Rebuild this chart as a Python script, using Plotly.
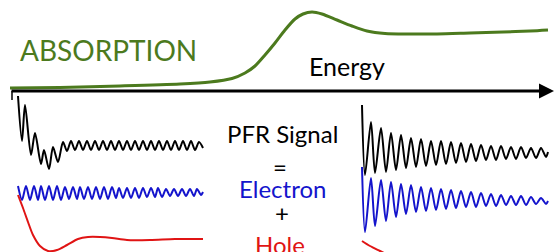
import plotly.graph_objects as go

# ---- data (schematic units: horizontal = energy/time, vertical = signal, downwards positive) ----
absorption_energy = [10, 60, 120, 180, 210, 232, 245, 255, 265, 275, 285, 295, 303, 312, 322, 337, 352, 367, 385, 410, 437, 470, 503, 530, 548]
absorption_value = [88, 87.5, 86, 84, 82, 78.5, 73, 66, 55, 43, 30, 19, 14, 12, 14, 20, 26, 31, 33.5, 34, 34, 33, 32, 31, 30]

left_total_t = [18, 22, 25, 31, 35, 41, 44, 49, 53, 58, 63, 67, 71, 75, 79, 83, 87, 91, 95, 99, 103, 107, 111, 115,
                119, 123, 127, 131, 135, 139, 143, 147, 151, 155, 159, 163, 167, 171, 175, 179, 183, 187, 191, 195, 199, 203]
left_total_y = [96, 141, 105, 155, 133, 164, 150, 169, 147, 162, 142, 151, 141, 150, 141, 150, 141, 150, 141, 150, 141, 150, 141, 150,
                141, 150, 141, 150, 141, 150, 141, 150, 141, 150, 141, 150, 141, 150, 141, 150, 141, 150, 141, 150, 142, 148]

left_electron_t = [18, 22, 26, 30, 34, 38, 41, 45, 49, 53, 57, 61, 65, 69, 73, 77, 80, 84, 88, 92, 96, 100, 104, 108,
                   112, 116, 119, 123, 127, 131, 135, 139, 143, 147, 151, 155, 158, 162, 166, 170, 174, 178, 182, 186, 190, 194, 197, 201, 203]
left_electron_y = [186, 200, 186, 200, 186, 200, 186, 200, 186, 200, 186, 200, 187, 199, 187, 199, 187, 199, 187, 199, 187, 199, 187, 199,
                   187, 198, 188, 198, 188, 198, 188, 198, 188, 197, 188, 197, 188, 197, 189, 196, 189, 196, 189, 196, 189, 196, 189, 195, 192]

left_hole_t = [18, 23, 28, 33, 40, 48, 57, 67, 78, 88, 100, 112, 127, 150, 175, 203]
left_hole_y = [195, 208, 222, 235, 246, 251, 250, 245, 239, 237, 237, 238, 240, 240, 239, 239]

right_total_t = [362, 365, 371, 375, 381, 386, 391, 396, 401, 406, 411, 416, 421, 426, 431, 436, 441, 446, 451, 456,
                 461, 466, 471, 476, 481, 486, 491, 496, 501, 506, 511, 516, 521, 526, 531, 536, 541, 546, 548]
right_total_y = [105, 175, 122, 173, 128, 172, 133, 170, 135, 168, 138, 167, 139, 166, 141, 165, 141, 164, 142, 163,
                 143, 162, 144, 161, 145, 160, 146, 160, 146, 159, 147, 159, 147, 158, 148, 158, 148, 157, 152]

right_electron_t = [362, 365, 371, 375, 381, 386, 391, 396, 401, 406, 411, 416, 421, 426, 431, 436, 441, 446, 451, 456,
                    461, 466, 471, 476, 481, 486, 491, 496, 501, 506, 511, 516, 521, 526, 531, 536, 541, 546, 548]
right_electron_y = [167, 232, 178, 226, 180, 221, 182, 217, 184, 214, 185, 212, 187, 211, 188, 210, 189, 209, 190, 208,
                    191, 207, 192, 207, 193, 206, 194, 206, 195, 205, 196, 205, 196, 205, 197, 204, 198, 204, 201]

right_hole_t = [362, 370, 380, 392]
right_hole_y = [241, 246, 251, 257]

GREEN = "#4c7a1e"
BLUE = "#1414cc"
RED = "#e01414"
FONT = "Lato"

fig = go.Figure()

def add_line(t, y, color, width):
    fig.add_trace(go.Scatter(x=t, y=y, mode="lines", line=dict(color=color, width=width, shape="spline", smoothing=0.8),
                             hoverinfo="skip", showlegend=False))

add_line(absorption_energy, absorption_value, GREEN, 3)
add_line(left_total_t, left_total_y, "black", 2)
add_line(left_electron_t, left_electron_y, BLUE, 2)
add_line(left_hole_t, left_hole_y, RED, 2)
add_line(right_total_t, right_total_y, "black", 2)
add_line(right_electron_t, right_electron_y, BLUE, 2)
add_line(right_hole_t, right_hole_y, RED, 2)

# energy axis arrow
fig.add_annotation(x=554, y=91, ax=10, ay=91, xref="x", yref="y", axref="x", ayref="y",
                   showarrow=True, arrowhead=2, arrowsize=1, arrowwidth=3, arrowcolor="black", text="")
fig.add_shape(type="line", x0=12, x1=12, y0=91, y1=100, line=dict(color="black", width=1.5))

def label(text, x, y, color, size, height=None):
    fig.add_annotation(x=x, y=y, xref="x", yref="y", text=text, showarrow=False, height=height,
                       font=dict(family=FONT, size=size, color=color), xanchor="center", yanchor="middle",
                       valign="middle")

label("ABSORPTION", 108, 50, GREEN, 28)
label("Energy", 347, 66, "black", 25)
label("PFR Signal", 282, 133, "black", 24)
label("=", 280, 166, "black", 24, height=16)
label("Electron", 282, 188, BLUE, 24)
label("+", 282, 212, "black", 24, height=16)
label("Hole", 280, 244, RED, 24)

fig.update_xaxes(range=[0, 556], visible=False, fixedrange=True)
fig.update_yaxes(range=[252, 0], visible=False, fixedrange=True)
fig.update_layout(width=556, height=252, margin=dict(l=0, r=0, t=0, b=0),
                  plot_bgcolor="white", paper_bgcolor="white")

fig.write_html("out.html", config={"displayModeBar": False},
               post_script="document.body.style.margin='0px';document.body.style.overflow='hidden';")
